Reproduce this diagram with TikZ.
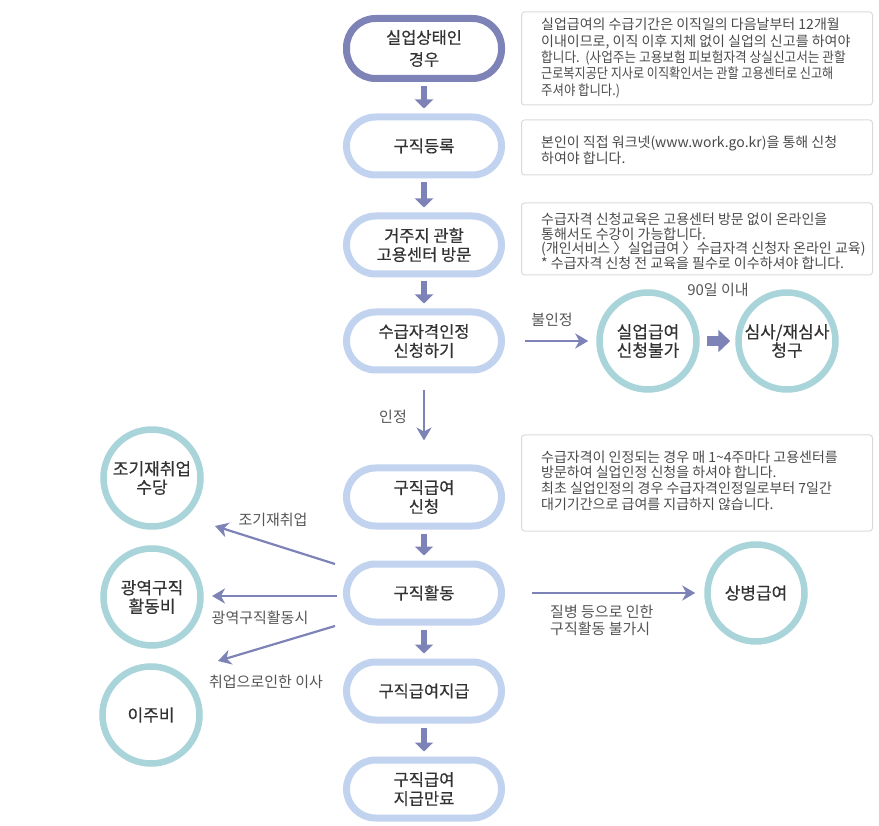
\documentclass[tikz,border=0pt]{standalone}
\usepackage{fontspec,graphicx}
\setmainfont{Noto Sans CJK KR}
\newfontfamily\boxfont[FakeBold=0.4]{Noto Sans CJK KR}
\usetikzlibrary{arrows.meta}
\definecolor{slate}{HTML}{7D83B6}
\definecolor{paleblue}{HTML}{C2D3F0}
\definecolor{seafoam}{HTML}{A8D4DA}
\definecolor{hairline}{HTML}{DADADA}
\definecolor{ink}{HTML}{333333}
\definecolor{note}{HTML}{4A4A4A}
\definecolor{caption}{HTML}{555555}

\begin{document}
\begin{tikzpicture}[x=1pt,y=-1pt,
  stadium/.style={draw=paleblue,line width=7pt,rounded corners=29pt,minimum width=155pt,minimum height=58pt,align=center,text=ink,font=\boxfont\fontsize{16.5}{19}\selectfont},
  ring/.style={circle,draw=seafoam,line width=6.5pt,minimum size=97pt,inner sep=0pt,align=center,text=ink,font=\boxfont\fontsize{17}{18.5}\selectfont},
  infobox/.style={draw=hairline,line width=1pt,rounded corners=3pt,minimum width=351pt},
  infotext/.style={anchor=west,inner sep=0pt,align=left,text=note,font=\fontsize{14}{16.3}\selectfont},
  lbl/.style={text=caption,inner sep=0pt,font=\fontsize{15}{17}\selectfont},
  blockarrow/.style={draw=slate,line width=6pt,-{Triangle[length=9pt,width=18pt]}},
  fatarrow/.style={draw=slate,line width=10pt,-{Triangle[length=12pt,width=22pt]}},
  thinarrow/.style={draw=slate,line width=2.2pt,-{Stealth[length=13pt,width=15pt,inset=4pt]}}]
\useasboundingbox (0,0) rectangle (879,826);
% Main column: the steps from losing the job to the end of payment.
\node[stadium,draw=slate,minimum height=60pt,font=\boxfont\fontsize{16.5}{22}\selectfont] (s1) at (424,48.5) {실업상태인\\경우};
\node[stadium] (s2) at (424,146) {구직등록};
\node[stadium] (s3) at (424,245) {거주지 관할\\고용센터 방문};
\node[stadium] (s4) at (424,341) {수급자격인정\\신청하기};
\node[stadium] (s5) at (424,497) {구직급여\\신청};
\node[stadium] (s6) at (424,593) {구직활동};
\node[stadium] (s7) at (424,691) {구직급여지급};
\node[stadium] (s8) at (424,789) {구직급여\\지급만료};
\foreach \a/\b in {s1/s2,s2/s3,s3/s4,s5/s6,s6/s7,s7/s8}
  \draw[blockarrow,shorten <=4pt,shorten >=5pt] (\a) -- (\b);
\draw[thinarrow,shorten <=17pt,shorten >=24pt] (s4) -- (s5);
\node[lbl] (lok) at (393,417) {인정};
% Notes on the right (the last lines of the first note are set narrower).
\node[infobox,minimum height=93pt] (b1) at (697,58.5) {};
\node[infotext] (t1) at (541,58) {실업급여의 수급기간은 이직일의 다음날부터 12개월\\이내이므로, 이직 이후 지체 없이 실업의 신고를 하여야\\\scalebox{0.905}[1]{합니다.\ \ (사업주는 고용보험 피보험자격 상실신고서는 관할}\\\scalebox{0.865}[1]{근로복지공단 지사로 이직확인서는 관할 고용센터로 신고해}\\\scalebox{0.885}[1]{주셔야 합니다.)}};
\node[infobox,minimum height=55pt] (b2) at (697,147.5) {};
\node[infotext,font=\fontsize{14}{15}\selectfont] (t2) at (541,150) {본인이 직접 워크넷(www.work.go.kr)을 통해 신청\\하여야 합니다.};
\node[infobox,minimum height=72pt] (b3) at (697,239) {};
\node[infotext,font=\fontsize{14}{14.5}\selectfont] (t3) at (541,241) {수급자격 신청교육은 고용센터 방문 없이 온라인을\\통해서도 수강이 가능합니다.\\(개인서비스 〉\kern-.2em{} 실업급여 〉\kern-.2em{} 수급자격 신청자 온라인 교육)\\* 수급자격 신청 전 교육을 필수로 이수하셔야 합니다.};
\node[infobox,minimum height=96pt] (b4) at (697,483) {};
\node[infotext,font=\fontsize{14}{15.6}\selectfont] (t4) at (541,480.5) {수급자격이 인정되는 경우 매 1\textasciitilde4주마다 고용센터를\\방문하여 실업인정 신청을 하셔야 합니다.\\최초 실업인정의 경우 수급자격인정일로부터 7일간\\대기기간으로 급여를 지급하지 않습니다.};
% Refusal branch.
\node[ring] (c1) at (648,341) {실업급여\\신청불가};
\node[ring] (c2) at (787,341) {심사/재심사\\청구};
\draw[thinarrow,shorten <=20pt,shorten >=8pt] (s4) -- (c1);
\node[lbl] (lno) at (552,320) {불인정};
\draw[fatarrow,shorten <=7pt,shorten >=5pt] (c1) -- (c2);
\node[lbl] (l90) at (718,290) {90일 이내};
% Side benefits during the job search.
\node[ring] (c3) at (152,478) {조기재취업\\수당};
\node[ring] (c4) at (152,597) {광역구직\\활동비};
\node[ring] (c5) at (151,715) {이주비};
\node[ring] (c6) at (756,593) {상병급여};
\coordinate (g1) at (335,564);
\coordinate (h1) at (215,526);
\coordinate (g2) at (337,596);
\coordinate (h2) at (212,596);
\coordinate (g3) at (335,626);
\coordinate (h3) at (218,661);
\draw[thinarrow] (g1) -- (h1);
\draw[thinarrow] (g2) -- (h2);
\draw[thinarrow] (g3) -- (h3);
\node[lbl] (lre) at (273,520) {조기재취업};
\node[lbl] (lwide) at (260,618) {광역구직활동시};
\node[lbl] (lmove) at (266,682) {취업으로인한 이사};
\draw[thinarrow,shorten <=27pt,shorten >=9pt] (s6) -- (c6);
\node[lbl,anchor=west,align=left] (lsick) at (550,620) {질병 등으로 인한\\구직활동 불가시};
\end{tikzpicture}
\end{document}
